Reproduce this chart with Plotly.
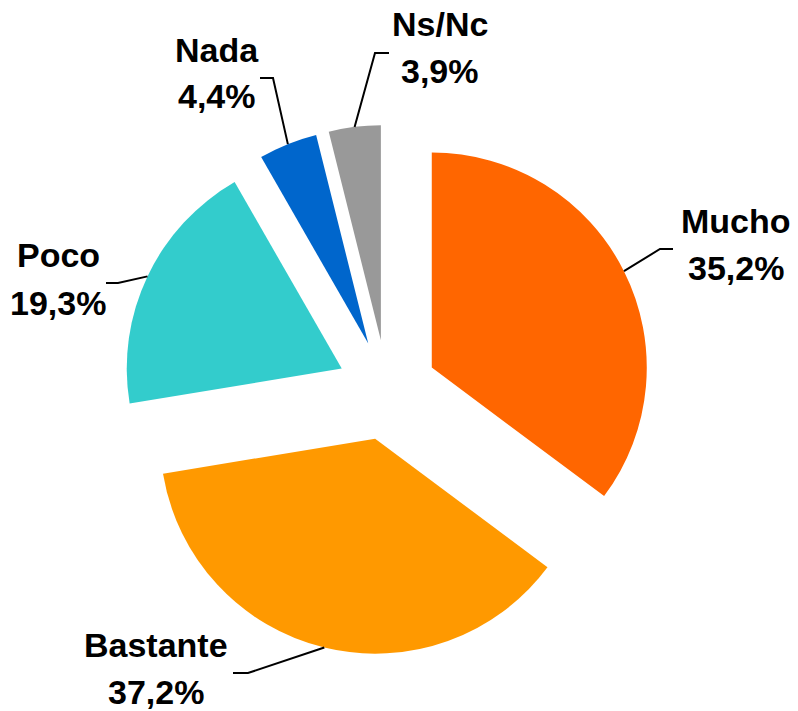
import math
import plotly.graph_objects as go

# ---- data ----
categories = ["Mucho", "Bastante", "Poco", "Nada", "Ns/Nc"]
values = [35.2, 37.2, 19.3, 4.4, 3.9]
value_labels = ["35,2%", "37,2%", "19,3%", "4,4%", "3,9%"]
colors = ["#FF6600", "#FF9900", "#33CCCC", "#0066CC", "#999999"]

# ---- layout constants (pixels) ----
W, H = 798, 711
CX, CY = 387, 390          # pie centre
R = 215                    # pie radius
PULL = 0.233               # explode fraction of radius
FONT = 34
LINE_GAP = 47

# label centres (name line / value line midpoint) and leader elbows
label_pos = {
    "Mucho": (736, 245),
    "Bastante": (156, 668),
    "Poco": (58, 279),
    "Nada": (217, 73),
    "Ns/Nc": (440, 48),
}
leader_elbow = {
    "Mucho": [(660, 249), (673, 249)],
    "Bastante": [(248, 673), (233, 673)],
    "Poco": [(118, 283), (106, 283)],
    "Nada": [(273, 78), (260, 78)],
    "Ns/Nc": [(375, 53), (389, 53)],
}

def px(x):
    return x / W

def py(y):
    return 1 - y / H

half = R * (1 + PULL)
fig = go.Figure(go.Pie(
    labels=categories,
    values=values,
    sort=False,
    direction="clockwise",
    rotation=0,
    pull=[PULL] * len(values),
    marker=dict(colors=colors, line=dict(width=0)),
    textinfo="none",
    hoverinfo="label+percent",
    showlegend=False,
    domain=dict(x=[px(CX - half), px(CX + half)], y=[py(CY + half), py(CY - half)]),
))

total = sum(values)
cum = 0.0
shapes = []
annotations = []
for cat, v, vl in zip(categories, values, value_labels):
    mid = (cum + v / 2) / total * 2 * math.pi
    cum += v
    # pulled slice centre
    pcx = CX + PULL * R * math.sin(mid)
    pcy = CY - PULL * R * math.cos(mid)
    sx = pcx + R * math.sin(mid)
    sy = pcy - R * math.cos(mid)
    pts = [(sx, sy)] + leader_elbow[cat]
    path = "M " + " L ".join(f"{px(x):.5f},{py(y):.5f}" for x, y in pts)
    shapes.append(dict(type="path", xref="paper", yref="paper", path=path,
                       line=dict(color="black", width=2)))
    lx, ly = label_pos[cat]
    for text, yy in ((cat, ly - LINE_GAP / 2), (vl, ly + LINE_GAP / 2)):
        annotations.append(dict(
            x=px(lx), y=py(yy), xref="paper", yref="paper",
            text=f"<b>{text}</b>", showarrow=False,
            xanchor="center", yanchor="middle",
            font=dict(family="Liberation Sans, Arial, sans-serif", size=FONT, color="black"),
        ))

fig.update_layout(
    width=W, height=H, autosize=False,
    margin=dict(l=0, r=0, t=0, b=0),
    paper_bgcolor="white", plot_bgcolor="white",
    shapes=shapes, annotations=annotations,
)
fig.write_html("out.html", config={"displayModeBar": False},
               post_script="document.body.style.margin='0';")
